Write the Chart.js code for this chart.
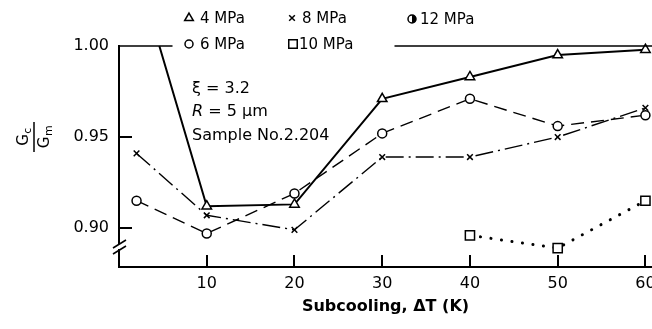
<!DOCTYPE html>
<html>
<head>
<meta charset="utf-8">
<script src="https://cdn.jsdelivr.net/npm/chart.js@4.4.0/dist/chart.umd.min.js"></script>
<style>
  html, body { margin: 0; padding: 0; background: #fff; }
  #wrap { width: 652px; height: 329px; }
</style>
</head>
<body>
<div id="wrap"><canvas id="chart" width="652" height="329"></canvas></div>
<script>
// Subcooling dT (K) and Gc/Gm values
const dT = [2, 10, 20, 30, 40, 50, 60];
const dT4 = [4.6, 10, 20, 30, 40, 50, 60];
const dT10 = [40, 50, 60];
const g4 = [1.000, 0.912, 0.913, 0.971, 0.983, 0.995, 0.998];
const g6 = [0.915, 0.897, 0.919, 0.952, 0.971, 0.956, 0.962];
const g8 = [0.941, 0.907, 0.899, 0.939, 0.939, 0.950, 0.966];
const g10 = [0.896, 0.889, 0.915];
// 1.00 line, broken where the legend sits
const refX = [0, 6.1, 18, 31.4, 60.75];
const refY = [1.0, 1.0, null, 1.0, 1.0];

const xTicks = [10, 20, 30, 40, 50, 60];
const yTicks = [0.90, 0.95, 1.00];
const seriesNames = ["4 MPa", "6 MPa", "8 MPa", "10 MPa", "12 MPa"];

const FONT = "'DejaVu Sans', sans-serif";
const toPts = (xs, ys) => xs.map((x, i) => ({ x: x, y: ys[i] }));

// legend layout (two rows, three columns like the original)
const legendItems = [
  { name: seriesNames[0], style: "triangle", r: 5, x: 189, y: 18, tx: 200 },
  { name: seriesNames[2], style: "crossRot", r: 4, x: 292, y: 18, tx: 302 },
  { name: seriesNames[4], style: "half", r: 4, x: 412, y: 19, tx: 420 },
  { name: seriesNames[1], style: "circle", r: 4, x: 189, y: 44, tx: 200 },
  { name: seriesNames[3], style: "rect", r: 6, x: 293, y: 44, tx: 299 },
];

function drawSubText(ctx, main, sub, cx, base, size) {
  ctx.font = size + "px " + FONT;
  const w1 = ctx.measureText(main).width;
  ctx.font = Math.round(size * 0.7) + "px " + FONT;
  const w2 = ctx.measureText(sub).width;
  const x0 = cx - (w1 + w2) / 2;
  ctx.font = size + "px " + FONT;
  ctx.fillText(main, x0, base);
  ctx.font = Math.round(size * 0.7) + "px " + FONT;
  ctx.fillText(sub, x0 + w1 + 0.5, base + 3);
}

const decor = {
  id: "decor",
  afterDraw(chart) {
    const ctx = chart.ctx;
    const xs = chart.scales.x, ys = chart.scales.y;
    const area = chart.chartArea;
    ctx.save();
    ctx.strokeStyle = "#000";
    ctx.fillStyle = "#000";
    ctx.lineWidth = 2;

    // inward tick marks
    xs.ticks.forEach(t => {
      const px = Math.round(xs.getPixelForValue(t.value));
      ctx.beginPath();
      ctx.moveTo(px, area.bottom);
      ctx.lineTo(px, area.bottom - 12);
      ctx.stroke();
    });
    ys.ticks.forEach(t => {
      if (t.value >= 1) return;
      const py = Math.round(ys.getPixelForValue(t.value));
      ctx.beginPath();
      ctx.moveTo(area.left, py);
      ctx.lineTo(area.left + 13, py);
      ctx.stroke();
    });

    // axis break
    ctx.fillStyle = "#fff";
    ctx.fillRect(area.left - 3, 244, 6, 5);
    ctx.lineWidth = 1.6;
    [0, 6].forEach(d => {
      ctx.beginPath();
      ctx.moveTo(area.left - 6, 248 + d);
      ctx.lineTo(area.left + 7, 240 + d);
      ctx.stroke();
    });

    // y title: Gc / Gm fraction turned on its side
    ctx.fillStyle = "#000";
    ctx.save();
    ctx.translate(34, 137);
    ctx.rotate(-Math.PI / 2);
    ctx.lineWidth = 1.5;
    ctx.beginPath();
    ctx.moveTo(-15, 0);
    ctx.lineTo(15, 0);
    ctx.stroke();
    ctx.textBaseline = "alphabetic";
    ctx.textAlign = "left";
    drawSubText(ctx, "G", "c", 0, -6, 15);
    drawSubText(ctx, "G", "m", 0, 15, 15);
    ctx.restore();

    // legend
    ctx.textBaseline = "middle";
    ctx.textAlign = "left";
    ctx.font = "15px " + FONT;
    legendItems.forEach(it => {
      ctx.strokeStyle = "#000";
      ctx.fillStyle = "#fff";
      ctx.lineWidth = 1.5;
      if (it.style === "half") {
        ctx.beginPath();
        ctx.arc(it.x, it.y, it.r, 0, Math.PI * 2);
        ctx.fill();
        ctx.stroke();
        ctx.fillStyle = "#000";
        ctx.beginPath();
        ctx.arc(it.x, it.y, it.r, -Math.PI / 2, Math.PI / 2);
        ctx.closePath();
        ctx.fill();
      } else {
        Chart.helpers.drawPoint(ctx, { pointStyle: it.style, radius: it.r, borderWidth: 1.5, rotation: 0 }, it.x, it.y);
      }
      ctx.fillStyle = "#000";
      ctx.font = "15px " + FONT;
      ctx.fillText(it.name, it.tx, it.y + 1);
    });

    // notes
    ctx.font = "16px " + FONT;
    ctx.fillText("\u03BE = 3.2", 192, 89);
    ctx.font = "italic 16px " + FONT;
    ctx.fillText("R", 192, 112);
    const wr = ctx.measureText("R").width;
    ctx.font = "16px " + FONT;
    ctx.fillText(" = 5 \u03BCm", 192 + wr, 112);
    ctx.fillText("Sample No.2.204", 192, 136);
    ctx.restore();
  }
};

const ctx = document.getElementById("chart").getContext("2d");

new Chart(ctx, {
  type: "line",
  data: {
    datasets: [
      {
        label: "ref",
        data: toPts(refX, refY),
        borderColor: "#000",
        borderWidth: 1.5,
        pointRadius: 0,
        spanGaps: false,
        clip: false,
      },
      {
        label: seriesNames[0],
        data: toPts(dT4, g4),
        borderColor: "#000",
        backgroundColor: "#fff",
        borderWidth: 2,
        pointStyle: "triangle",
        pointRadius: dT4.map((v, i) => (i === 0 ? 0 : 5.5)),
        pointBorderWidth: 1.5,
        clip: false,
      },
      {
        label: seriesNames[1],
        data: toPts(dT, g6),
        borderColor: "#000",
        backgroundColor: "#fff",
        borderWidth: 1.4,
        borderDash: [13, 7],
        pointStyle: "circle",
        pointRadius: 4.5,
        pointBorderWidth: 1.5,
        clip: false,
      },
      {
        label: seriesNames[2],
        data: toPts(dT, g8),
        borderColor: "#000",
        backgroundColor: "#fff",
        borderWidth: 1.4,
        borderDash: [18, 5, 2, 5],
        pointStyle: "crossRot",
        pointRadius: 4,
        pointBorderWidth: 1.5,
        clip: false,
      },
      {
        label: seriesNames[3],
        data: toPts(dT10, g10),
        borderColor: "#000",
        backgroundColor: "#fff",
        borderWidth: 3,
        borderDash: [0.1, 10.5],
        borderCapStyle: "round",
        pointStyle: "rect",
        pointRadius: 6.5,
        pointBorderWidth: 1.5,
        clip: false,
      },
    ],
  },
  options: {
    responsive: false,
    animation: false,
    devicePixelRatio: 1,
    layout: { autoPadding: false, padding: { top: 46, left: 0, right: 0, bottom: 0 } },
    plugins: { legend: { display: false }, tooltip: { enabled: false } },
    elements: { line: { tension: 0 } },
    scales: {
      x: {
        type: "linear",
        min: 0,
        max: 60.75,
        afterBuildTicks: s => { s.ticks = xTicks.map(v => ({ value: v })); },
        afterFit: s => { s.height = 62; s.paddingLeft = 0; s.paddingRight = 0; },
        grid: { display: false, drawTicks: false },
        border: { display: true, color: "#000", width: 2 },
        ticks: {
          color: "#000",
          font: { family: FONT, size: 16 },
          padding: 7,
          maxRotation: 0,
          callback: v => String(v),
        },
        title: {
          display: true,
          text: "Subcooling, \u0394T (K)",
          color: "#000",
          font: { family: FONT, size: 16, weight: "bold" },
          padding: { top: 0, bottom: 13 },
        },
      },
      y: {
        type: "linear",
        min: 0.8786,
        max: 1.0,
        afterBuildTicks: s => { s.ticks = yTicks.map(v => ({ value: v })); },
        afterFit: s => { s.width = 119; },
        grid: { display: false, drawTicks: false },
        border: { display: true, color: "#000", width: 2 },
        ticks: {
          color: "#000",
          font: { family: FONT, size: 16 },
          padding: 10,
          callback: v => Number(v).toFixed(2),
        },
      },
    },
  },
  plugins: [decor],
});
</script>
</body>
</html>
